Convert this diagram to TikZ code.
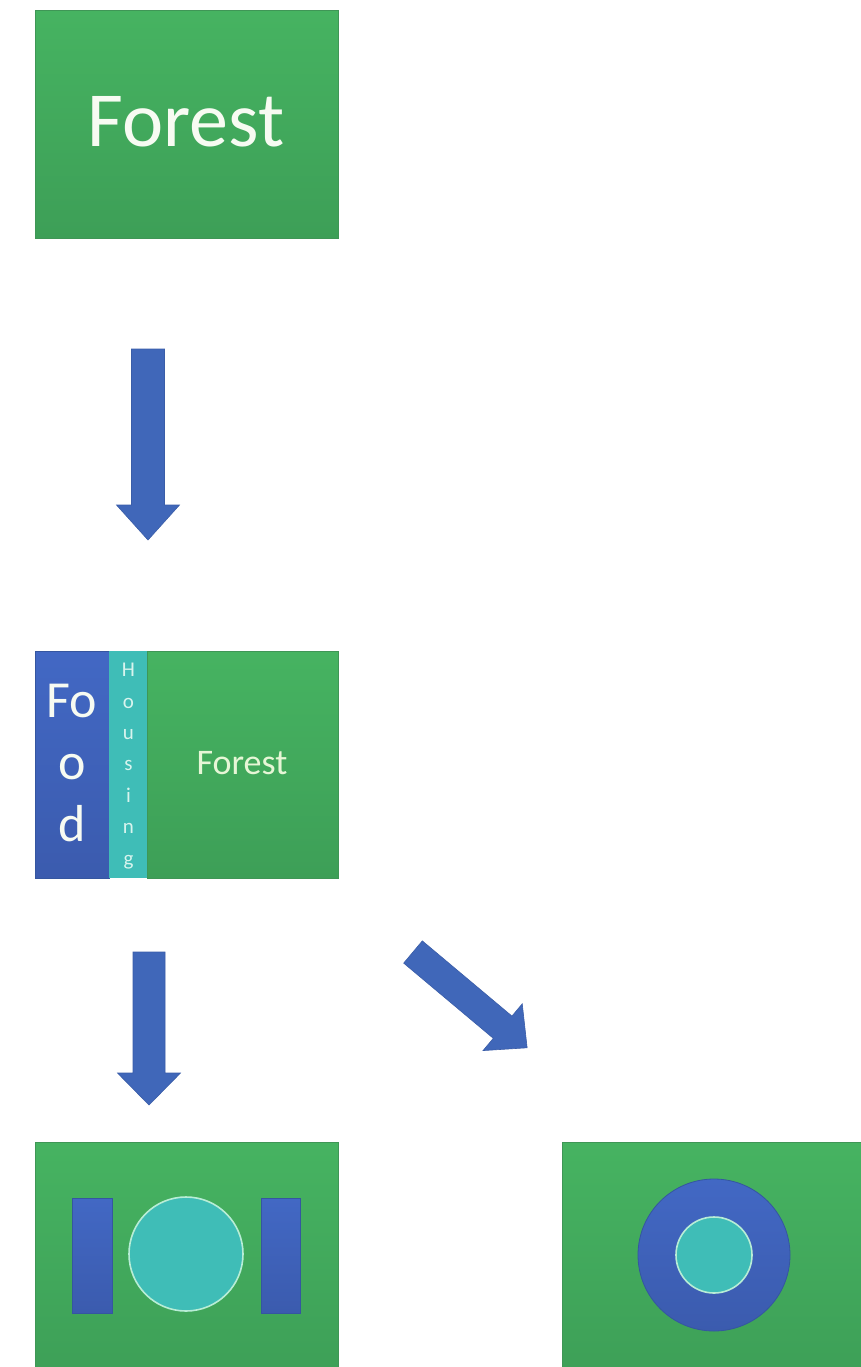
\documentclass[tikz,border=0pt]{standalone}
\usepackage{fontspec}
\setmainfont{Carlito}

\definecolor{gTop}{HTML}{46B361}
\definecolor{gBot}{HTML}{3D9F57}
\definecolor{gEdge}{HTML}{3F9656}
\definecolor{bTop}{HTML}{4268C4}
\definecolor{bBot}{HTML}{3B5BAE}
\definecolor{bEdge}{HTML}{3556A0}
\definecolor{tealfill}{HTML}{3FBDB7}
\definecolor{ringline}{HTML}{B8EDD6}
\definecolor{arrowblue}{HTML}{4067B9}
\definecolor{arrowedge}{HTML}{3A5DA8}
\definecolor{labelwhite}{HTML}{F7FBF2}
\definecolor{labelpale}{HTML}{E6F6D6}
\definecolor{labelcyan}{HTML}{D8F4EE}

% block arrow: #1 x, #2 y of the tail centre, #3 angle, #4 length to tip,
% #5 shaft width, #6 head width, #7 head length
\newcommand\blockarrow[7]{%
  \begin{scope}[shift={(#1,#2)}, rotate=#3]
    \filldraw[arrowshape]
      (0,-#5/2) -- (#4-#7,-#5/2) -- (#4-#7,-#6/2) -- (#4,0)
      -- (#4-#7,#6/2) -- (#4-#7,#5/2) -- (0,#5/2) -- cycle;
  \end{scope}}

\begin{document}
\begin{tikzpicture}[x=1pt,y=-1pt,
  greenbox/.style={draw=gEdge, line width=0.8pt, top color=gTop, bottom color=gBot,
                   inner sep=0pt, anchor=north west},
  bluebar/.style={draw=bEdge, line width=0.6pt, top color=bTop, bottom color=bBot,
                  inner sep=0pt, anchor=north west},
  tealbar/.style={fill=tealfill, inner sep=0pt, anchor=north west},
  plate/.style={circle, fill=tealfill, draw=ringline, line width=1.6pt, inner sep=0pt},
  ringdisc/.style={circle, draw=bEdge, line width=0.8pt, top color=bTop, bottom color=bBot,
                   inner sep=0pt},
  arrowshape/.style={fill=arrowblue, draw=arrowedge, line width=0.6pt, line join=miter},
  bigtext/.style={text=labelwhite, inner sep=0pt}]

\useasboundingbox (0,0) rectangle (861,1367);
\fill[white] (0,0) rectangle (861,1367);

% top: the forest
\node[greenbox, minimum width=303pt, minimum height=228pt] (forest) at (35,10) {};
\node[bigtext, anchor=base, font=\fontsize{78}{78}\selectfont] (forestlabel) at (186,147) {Forest};

% first arrow
\blockarrow{148}{349}{-90}{191}{33}{63}{35}

% middle: food, housing and forest
\node[greenbox, minimum width=191pt, minimum height=227pt] (forest2) at (147,651) {};
\node[bluebar, minimum width=74pt, minimum height=227pt] (food) at (35,651) {};
\node[tealbar, minimum width=38pt, minimum height=227pt] (housing) at (109,651) {};
\node[bigtext, anchor=north, align=center, font=\fontsize{52}{62}\selectfont]
  (foodlabel) at (72,684) {Fo\\o\\d};
\node[inner sep=0pt, anchor=north, align=center, text=labelcyan,
      font=\fontsize{21}{31.4}\selectfont]
  (housinglabel) at (128.5,663) {H\\o\\u\\s\\i\\n\\g};
\node[inner sep=0pt, text=labelpale, font=\fontsize{36}{36}\selectfont]
  (forest2label) at (242,763) {Forest};

% lower arrows
\blockarrow{149}{952}{-90}{153}{32}{63}{32}
\blockarrow{413}{952}{-40}{149}{29}{61}{32}

% bottom left: plate between two bars
\node[greenbox, minimum width=303pt, minimum height=240pt] (meal) at (35,1142) {};
\node[bluebar, minimum width=40pt, minimum height=115pt] (leftbar) at (72,1198) {};
\node[bluebar, minimum width=39pt, minimum height=115pt] (rightbar) at (261,1198) {};
\node[plate, minimum size=114pt] (plate) at (186,1254) {};

% bottom right: ring
\node[greenbox, minimum width=320pt, minimum height=240pt] (ringbox) at (562,1142) {};
\node[ringdisc, minimum size=152pt] (ring) at (714,1255) {};
\node[plate, minimum size=76pt] (hole) at (714,1255) {};

\end{tikzpicture}
\end{document}
